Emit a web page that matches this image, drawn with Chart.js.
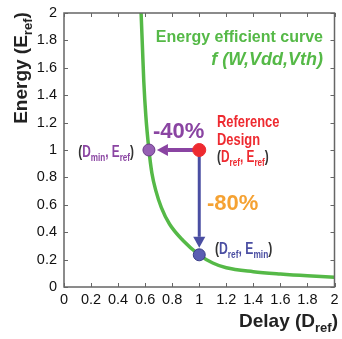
<!DOCTYPE html>
<html>
<head>
<meta charset="utf-8">
<script src="https://cdn.jsdelivr.net/npm/chart.js@4.4.1/dist/chart.umd.min.js"></script>
<style>
  html, body { margin: 0; padding: 0; background: #fff; overflow: hidden; }
  #wrap { width: 342px; height: 339px; }
  canvas { display: block; }
</style>
</head>
<body>
<div id="wrap"><canvas id="grafica" width="342" height="339"></canvas></div>
<script>
// curva de eficiencia energética
const delayCurve  = [0.57, 0.58, 0.59, 0.605, 0.628, 0.65, 0.68, 0.72, 0.78, 0.88, 1.0, 1.1, 1.2, 1.4, 1.6, 1.8, 2.0];
const energyCurve = [2.0, 1.75, 1.5, 1.25, 1.0, 0.83, 0.7, 0.58, 0.46, 0.34, 0.235, 0.175, 0.14, 0.112, 0.095, 0.082, 0.072];

// puntos de diseño
const refPoint  = { x: 1.0,   y: 1.0 };   // (Dref, Eref)
const dminPoint = { x: 0.628, y: 1.0 };   // (Dmin, Eref)
const eminPoint = { x: 1.0,   y: 0.235 }; // (Dref, Emin)

// ticks
const xTickVals = [0, 0.2, 0.4, 0.6, 0.8, 1, 1.2, 1.4, 1.6, 1.8, 2];
const xTickLabels = ['0', '0.2', '0.4', '0.6', '0.8', '1', '1.2', '1.4', '1.6', '1.8', '2'];
const yTickVals = [0, 0.2, 0.4, 0.6, 0.8, 1, 1.2, 1.4, 1.6, 1.8, 2];
const yTickLabels = ['0', '0.2', '0.4', '0.6', '0.8', '1', '1.2', '1.4', '1.6', '1.8', '2'];

const GREEN = '#55b947';
const RED = '#ee2a30';
const PURPLE = '#8a44a2';
const PURPLE_FILL = '#9660b4';
const BLUE = '#4a4ea2';
const BLUE_FILL = '#5a5eb2';
const ORANGE = '#f5a233';
const DARK = '#333';
const SANS = '"Liberation Sans", Arial, sans-serif';

// texto con subíndices: parts = [texto, color, sub?]; sx = compresión horizontal
function richText(ctx, x, y, parts, size, align, style, sx) {
    sx = sx || 1;
    const subSize = Math.round(size * 0.68);
    const pre = style ? style + ' ' : '';
    let total = 0;
    parts.forEach(p => {
        ctx.font = pre + 'bold ' + (p[2] ? subSize : size) + 'px ' + SANS;
        total += ctx.measureText(p[0]).width;
    });
    total *= sx;
    const x0 = align === 'right' ? x - total : (align === 'center' ? x - total / 2 : x);
    ctx.save();
    ctx.translate(x0, y);
    ctx.scale(sx, 1);
    ctx.textAlign = 'left';
    ctx.textBaseline = 'alphabetic';
    let cx = 0;
    parts.forEach(p => {
        ctx.font = pre + 'bold ' + (p[2] ? subSize : size) + 'px ' + SANS;
        ctx.fillStyle = p[1];
        ctx.fillText(p[0], cx, p[2] ? size * 0.25 : 0);
        cx += ctx.measureText(p[0]).width;
    });
    ctx.restore();
}

function arrow(ctx, x0, y0, x1, y1, color, width, head) {
    const ang = Math.atan2(y1 - y0, x1 - x0);
    const bx = x1 - head * Math.cos(ang);
    const by = y1 - head * Math.sin(ang);
    ctx.strokeStyle = color;
    ctx.lineWidth = width;
    ctx.beginPath();
    ctx.moveTo(x0, y0);
    ctx.lineTo(bx, by);
    ctx.stroke();
    ctx.fillStyle = color;
    ctx.beginPath();
    ctx.moveTo(x1, y1);
    ctx.lineTo(bx + head * 0.55 * Math.sin(ang), by - head * 0.55 * Math.cos(ang));
    ctx.lineTo(bx - head * 0.55 * Math.sin(ang), by + head * 0.55 * Math.cos(ang));
    ctx.closePath();
    ctx.fill();
}

const decoraciones = {
    id: 'decoraciones',
    beforeDatasetsDraw(chart) {
        const ctx = chart.ctx;
        const xs = chart.scales.x, ys = chart.scales.y;
        const rx = xs.getPixelForValue(refPoint.x), ry = ys.getPixelForValue(refPoint.y);
        // flecha morada hacia Dmin
        arrow(ctx, rx, ry, xs.getPixelForValue(dminPoint.x) + 8, ys.getPixelForValue(dminPoint.y), PURPLE, 4, 11);
        // flecha azul hacia Emin
        arrow(ctx, rx, ry, xs.getPixelForValue(eminPoint.x), ys.getPixelForValue(eminPoint.y) - 7, BLUE, 3, 11);
    },
    afterDraw(chart) {
        const ctx = chart.ctx;
        const a = chart.chartArea;
        const xs = chart.scales.x, ys = chart.scales.y;
        ctx.save();
        // caja y ticks hacia dentro
        ctx.strokeStyle = '#666';
        ctx.lineWidth = 1.5;
        ctx.strokeRect(a.left, a.top, a.right - a.left, a.bottom - a.top);
        ctx.lineWidth = 1;
        ctx.beginPath();
        xTickVals.forEach(v => {
            const px = Math.round(xs.getPixelForValue(v)) + 0.5;
            ctx.moveTo(px, a.bottom); ctx.lineTo(px, a.bottom - 4);
            ctx.moveTo(px, a.top); ctx.lineTo(px, a.top + 4);
        });
        yTickVals.forEach(v => {
            const py = Math.round(ys.getPixelForValue(v)) + 0.5;
            ctx.moveTo(a.left, py); ctx.lineTo(a.left + 4, py);
            ctx.moveTo(a.right, py); ctx.lineTo(a.right - 4, py);
        });
        ctx.stroke();

        // etiquetas del eje x
        ctx.fillStyle = '#111';
        ctx.font = '14.5px ' + SANS;
        ctx.textAlign = 'center';
        ctx.textBaseline = 'top';
        xTickVals.forEach((v, i) => {
            ctx.fillText(xTickLabels[i], xs.getPixelForValue(v), a.bottom + 6);
        });

        // títulos de ejes
        richText(ctx, 338, 327, [['Delay (D', '#222'], ['ref', '#222', true], [')', '#222']], 19, 'right');
        ctx.save();
        ctx.translate(27, 68);
        ctx.rotate(-Math.PI / 2);
        richText(ctx, 0, 0, [['Energy (E', '#222'], ['ref', '#222', true], [')', '#222']], 19, 'center');
        ctx.restore();

        // anotaciones
        richText(ctx, 323, 42, [['Energy efficient curve', GREEN]], 16, 'right');
        richText(ctx, 323, 65, [['f (W,Vdd,Vth)', GREEN]], 18, 'right', 'italic');
        richText(ctx, 153, 138, [['-40%', PURPLE]], 22, 'left');
        richText(ctx, 207, 210, [['-80%', ORANGE]], 22, 'left');
        richText(ctx, 217, 127, [['Reference', RED]], 17, 'left', '', 0.76);
        richText(ctx, 217, 145, [['Design', RED]], 17, 'left', '', 0.76);
        richText(ctx, 217, 162, [['(', DARK], ['D', RED], ['ref', RED, true], [', ', RED], ['E', RED], ['ref', RED, true], [')', DARK]], 16, 'left', '', 0.74);
        richText(ctx, 134, 157, [['(', DARK], ['D', PURPLE], ['min', PURPLE, true], [', ', PURPLE], ['E', PURPLE], ['ref', PURPLE, true], [')', DARK]], 16, 'right', '', 0.74);
        richText(ctx, 215, 254, [['(', DARK], ['D', BLUE], ['ref', BLUE, true], [', ', BLUE], ['E', BLUE], ['min', BLUE, true], [')', DARK]], 16, 'left', '', 0.76);
        ctx.restore();
    }
};

const ctx = document.getElementById('grafica').getContext('2d');
new Chart(ctx, {
    type: 'scatter',
    data: {
        datasets: [
            {
                label: 'Energy efficient curve',
                data: delayCurve.map((d, i) => ({ x: d, y: energyCurve[i] })),
                showLine: true,
                borderColor: GREEN,
                borderWidth: 3.5,
                pointRadius: 0,
                cubicInterpolationMode: 'monotone',
                order: 3
            },
            {
                label: 'Reference Design',
                data: [refPoint],
                pointRadius: 6.5,
                backgroundColor: RED,
                borderColor: RED,
                borderWidth: 1,
                order: 1
            },
            {
                label: 'Dmin',
                data: [dminPoint],
                pointRadius: 6,
                backgroundColor: PURPLE_FILL,
                borderColor: '#6a3a88',
                borderWidth: 1,
                order: 1
            },
            {
                label: 'Emin',
                data: [eminPoint],
                pointRadius: 6,
                backgroundColor: BLUE_FILL,
                borderColor: '#3a3e88',
                borderWidth: 1,
                order: 1
            }
        ]
    },
    options: {
        responsive: false,
        animation: false,
        layout: { padding: { top: 13, right: 4, left: 0, bottom: 0 } },
        plugins: {
            legend: { display: false },
            tooltip: { enabled: false }
        },
        scales: {
            x: {
                type: 'linear',
                min: 0,
                max: 2,
                afterBuildTicks: s => { s.ticks = xTickVals.map(v => ({ value: v })); },
                afterFit: s => { s.height = 52; },
                grid: { display: false, drawTicks: false },
                border: { display: false },
                ticks: { display: false }
            },
            y: {
                type: 'linear',
                min: 0,
                max: 2,
                afterBuildTicks: s => { s.ticks = yTickVals.map(v => ({ value: v })); },
                afterFit: s => { s.width = 64; s.paddingTop = 0; s.paddingBottom = 0; },
                grid: { display: false, drawTicks: false },
                border: { display: false },
                ticks: {
                    autoSkip: false,
                    padding: 7,
                    color: '#111',
                    font: { family: SANS, size: 14.5 },
                    callback: (v, i) => yTickLabels[i]
                }
            }
        }
    },
    plugins: [decoraciones]
});
</script>
</body>
</html>
